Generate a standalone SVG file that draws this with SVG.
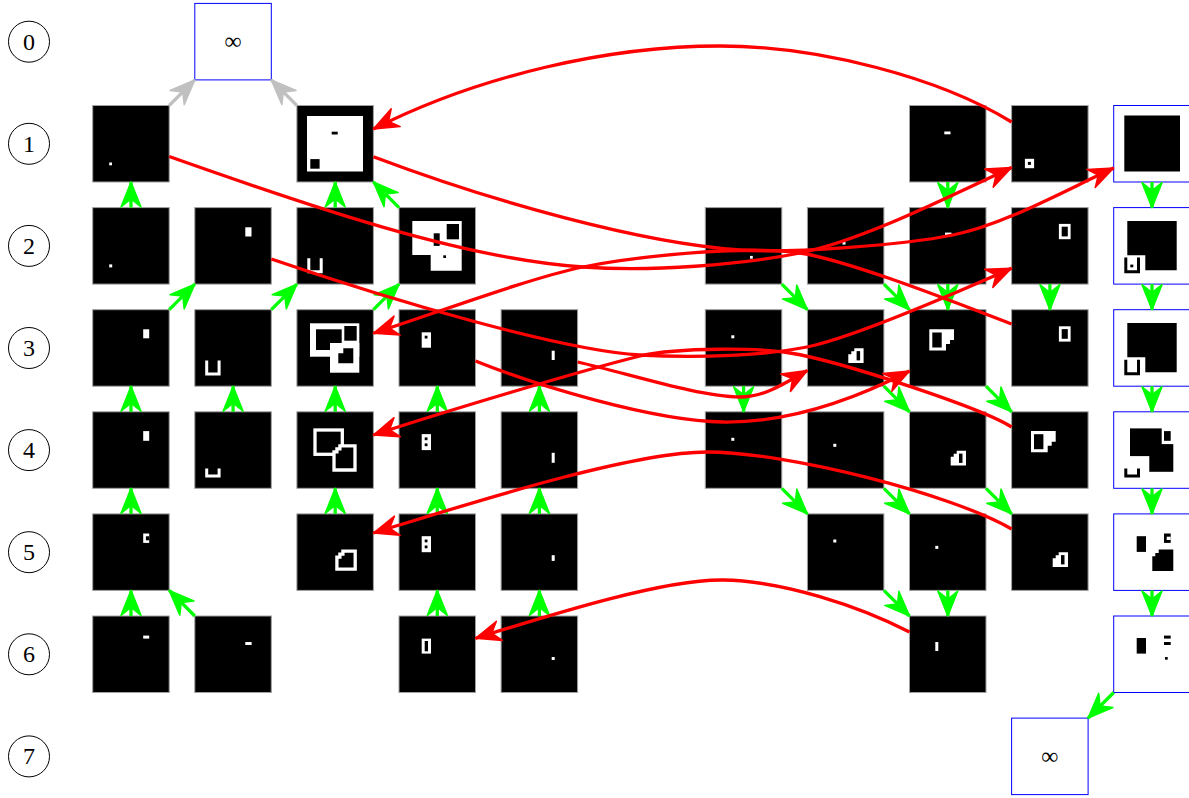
<svg xmlns="http://www.w3.org/2000/svg" xmlns:xlink="http://www.w3.org/1999/xlink" width="1189" height="798" viewBox="0 0 1189 798">
<style>
.n{fill:#000;stroke:#a0a0a0;stroke-width:1}
.b{fill:#fff;stroke:#0000ff;stroke-width:1}
.w{fill:#fff}
.k{fill:#000}
.ws{fill:none;stroke:#fff;stroke-width:3.3}
.wsk{fill:#000;stroke:#fff;stroke-width:3.3}
.lbl{fill:none;stroke:#000;stroke-width:1}
text{font-family:"Liberation Serif","Times New Roman",serif;font-size:24px;text-anchor:middle;fill:#000}
.g{fill:none;stroke:#00ff00;stroke-width:3.3;marker-end:url(#mg)}
.r{fill:none;stroke:#ff0000;stroke-width:3.3;marker-end:url(#mr)}
.s{fill:none;stroke:#c0c0c0;stroke-width:3.3;marker-end:url(#ms)}
</style>
<defs>
<marker id="mg" markerUnits="userSpaceOnUse" markerWidth="30" markerHeight="30" refX="25" refY="10" orient="auto" overflow="visible"><path d="M25,10 L0,0 L8,10 L0,20 Z" fill="#00ff00" stroke="#00ff00" stroke-width="1.5" stroke-linejoin="round"/></marker>
<marker id="mr" markerUnits="userSpaceOnUse" markerWidth="30" markerHeight="30" refX="25" refY="10" orient="auto" overflow="visible"><path d="M25,10 L0,0 L8,10 L0,20 Z" fill="#ff0000" stroke="#ff0000" stroke-width="1.5" stroke-linejoin="round"/></marker>
<marker id="ms" markerUnits="userSpaceOnUse" markerWidth="30" markerHeight="30" refX="25" refY="10" orient="auto" overflow="visible"><path d="M25,10 L0,0 L8,10 L0,20 Z" fill="#c0c0c0" stroke="#c0c0c0" stroke-width="1.5" stroke-linejoin="round"/></marker>
<rect id="sq" class="n" width="76.5" height="76.5"/>
<rect id="bx" class="b" width="76.5" height="76.5"/>
<g id="house"><path class="w" d="M6,0H15.3V14.7H0V6H3V3H6Z"/><rect class="k" x="8.3" y="2.8" width="3.5" height="9.3"/></g>
<g id="flag"><path class="w" d="M0,0H24.7V10.7H20.7V14.7H16.7V21.3H0Z"/><rect class="k" x="3" y="3.2" width="9.4" height="15"/></g>
<g id="ring"><rect class="w" width="11.7" height="15.3"/><rect class="k" x="2.8" y="2.8" width="6.1" height="9.7"/></g>
<path id="uw" class="w" d="M0,0H3V12H12.4V0H15.4V15H0Z"/>
<g id="tall8"><rect class="w" width="9.3" height="16"/><rect class="k" x="3" y="3.3" width="2.8" height="2.8"/><rect class="k" x="3" y="9.3" width="2.8" height="2.8"/></g>
<g id="bigL"><path class="k" d="M13.6,13.3H63V62.6H31.6V47.6H13.6Z"/><path class="k" d="M10.6,50H13.6V62.6H23.3V50H26.3V65.6H10.6Z"/></g>
</defs>

<g id="rank-labels">
<g id="r0"><circle class="lbl" cx="29" cy="41.7" r="20.5"/><text x="29" y="49.5">0</text></g>
<g id="r1"><circle class="lbl" cx="29" cy="143.8" r="20.5"/><text x="29" y="151.6">1</text></g>
<g id="r2"><circle class="lbl" cx="29" cy="245.9" r="20.5"/><text x="29" y="253.7">2</text></g>
<g id="r3"><circle class="lbl" cx="29" cy="348" r="20.5"/><text x="29" y="355.8">3</text></g>
<g id="r4"><circle class="lbl" cx="29" cy="450.1" r="20.5"/><text x="29" y="457.9">4</text></g>
<g id="r5"><circle class="lbl" cx="29" cy="552.2" r="20.5"/><text x="29" y="560">5</text></g>
<g id="r6"><circle class="lbl" cx="29" cy="654.3" r="20.5"/><text x="29" y="662.1">6</text></g>
<g id="r7"><circle class="lbl" cx="29" cy="756.4" r="20.5"/><text x="29" y="764.2">7</text></g>
</g>

<g id="nodes">
<g id="n0_1" transform="translate(194.8,3.4)"><use href="#bx"/><text x="38.25" y="46">∞</text></g>
<g id="n7_9" transform="translate(1011.6,718.1)"><use href="#bx"/><text x="38.25" y="46">∞</text></g>

<g id="n1_0" transform="translate(92.7,105.5)"><use href="#sq"/><rect class="w" x="16.5" y="57" width="2.8" height="2.8"/></g>
<g id="n1_2" transform="translate(296.9,105.5)"><use href="#sq"/><rect class="w" x="10.1" y="10.5" width="56" height="55.5"/><rect class="k" x="13.4" y="53.6" width="9.3" height="9.6"/><rect class="k" x="34.8" y="26.2" width="6" height="2.8"/></g>
<g id="n1_8" transform="translate(909.5,105.5)"><use href="#sq"/><rect class="w" x="34.8" y="26" width="6.2" height="2.8"/></g>
<g id="n1_9" transform="translate(1011.6,105.5)"><use href="#sq"/><rect class="w" x="13.3" y="53.3" width="9.2" height="9.4"/><rect class="k" x="16.3" y="56.4" width="3" height="3"/></g>
<g id="n1_10" transform="translate(1113.7,105.5)"><use href="#bx"/><rect class="k" x="10.6" y="10" width="55.7" height="56"/></g>

<g id="n2_0" transform="translate(92.7,207.6)"><use href="#sq"/><rect class="w" x="16.5" y="56.8" width="3" height="3"/></g>
<g id="n2_1" transform="translate(194.8,207.6)"><use href="#sq"/><rect class="w" x="50.5" y="19.7" width="6.2" height="9.2"/></g>
<g id="n2_2" transform="translate(296.9,207.6)"><use href="#sq"/><use href="#uw" x="10.4" y="50.7"/></g>
<g id="n2_3" transform="translate(399,207.6)"><use href="#sq"/><path class="w" d="M13.3,13.4H62.7V63.1H31.7V47.4H13.3Z"/><rect class="k" x="47.7" y="16.4" width="12.3" height="15.3"/><rect class="k" x="34.7" y="25.7" width="6" height="12.6"/><rect class="k" x="44.3" y="47.7" width="2.7" height="2.7"/></g>
<g id="n2_6" transform="translate(705.3,207.6)"><use href="#sq"/><rect class="w" x="44.7" y="48.3" width="2.8" height="2.8"/></g>
<g id="n2_7" transform="translate(807.4,207.6)"><use href="#sq"/><rect class="w" x="35.1" y="34" width="3" height="3"/></g>
<g id="n2_8" transform="translate(909.5,207.6)"><use href="#sq"/><rect class="w" x="35.5" y="25" width="6.5" height="3.5"/></g>
<g id="n2_9" transform="translate(1011.6,207.6)"><use href="#sq"/><use href="#ring" x="47.3" y="16.3"/></g>
<g id="n2_10" transform="translate(1113.7,207.6)"><use href="#bx"/><use href="#bigL"/><rect class="k" x="16.6" y="57" width="3" height="2.7"/></g>

<g id="n3_0" transform="translate(92.7,309.7)"><use href="#sq"/><rect class="w" x="50.5" y="19.6" width="6" height="9"/></g>
<g id="n3_1" transform="translate(194.8,309.7)"><use href="#sq"/><use href="#uw" x="10.4" y="50.7"/></g>
<g id="n3_2" transform="translate(296.9,309.7)"><use href="#sq"/><rect class="w" x="13.1" y="13.6" width="49.3" height="33.4"/><rect class="k" x="19.1" y="19.6" width="25.7" height="20.7"/><rect class="k" x="47.4" y="16.3" width="12.4" height="14.7"/><rect class="w" x="33.1" y="33.3" width="29.3" height="29.7"/><path class="k" d="M46.4,38.6H56.4V53.6H41.4V43.6H46.4Z"/></g>
<g id="n3_3" transform="translate(399,309.7)"><use href="#sq"/><rect class="w" x="22.7" y="22.6" width="9.3" height="15.4"/><rect class="k" x="25.7" y="26" width="2.8" height="2.8"/></g>
<g id="n3_4" transform="translate(501.1,309.7)"><use href="#sq"/><rect class="w" x="50.6" y="41" width="3" height="9.3"/></g>
<g id="n3_6" transform="translate(705.3,309.7)"><use href="#sq"/><rect class="w" x="26" y="25.6" width="3" height="3"/></g>
<g id="n3_7" transform="translate(807.4,309.7)"><use href="#sq"/><use href="#house" x="40.9" y="38.6"/></g>
<g id="n3_8" transform="translate(909.5,309.7)"><use href="#sq"/><use href="#flag" x="19.8" y="19.6"/></g>
<g id="n3_9" transform="translate(1011.6,309.7)"><use href="#sq"/><use href="#ring" x="47.3" y="16.6"/></g>
<g id="n3_10" transform="translate(1113.7,309.7)"><use href="#bx"/><use href="#bigL"/></g>

<g id="n4_0" transform="translate(92.7,411.8)"><use href="#sq"/><rect class="w" x="50.5" y="19.3" width="6" height="9.7"/></g>
<g id="n4_1" transform="translate(194.8,411.8)"><use href="#sq"/><path class="w" d="M10.4,56.6H13.4V62.6H22.8V56.6H25.8V65.6H10.4Z"/></g>
<g id="n4_2" transform="translate(296.9,411.8)"><use href="#sq"/><rect class="ws" x="18.1" y="18.2" width="27.3" height="24.3"/><path class="wsk" d="M43,34H58.1V58.2H37.1V40H40V37H43Z"/></g>
<g id="n4_3" transform="translate(399,411.8)"><use href="#sq"/><use href="#tall8" x="22.7" y="22.3"/></g>
<g id="n4_4" transform="translate(501.1,411.8)"><use href="#sq"/><rect class="w" x="50.6" y="41" width="3" height="10"/></g>
<g id="n4_6" transform="translate(705.3,411.8)"><use href="#sq"/><rect class="w" x="26" y="26" width="3" height="3"/></g>
<g id="n4_7" transform="translate(807.4,411.8)"><use href="#sq"/><rect class="w" x="25.9" y="32" width="3" height="3"/></g>
<g id="n4_8" transform="translate(909.5,411.8)"><use href="#sq"/><use href="#house" x="41.2" y="39"/></g>
<g id="n4_9" transform="translate(1011.6,411.8)"><use href="#sq"/><use href="#flag" x="19.4" y="19.2"/></g>
<g id="n4_10" transform="translate(1113.7,411.8)"><use href="#bx"/><rect class="k" x="16.3" y="16.6" width="31.7" height="27.7"/><rect class="k" x="35.6" y="32.3" width="24" height="27.7"/><rect class="k" x="50.3" y="19.3" width="6.7" height="9.7"/><path class="k" d="M10.6,56.6H13.6V62.6H23.3V56.6H26.3V65.6H10.6Z"/></g>

<g id="n5_0" transform="translate(92.7,513.9)"><use href="#sq"/><rect class="w" x="50.5" y="19.6" width="6" height="9.4"/><rect class="k" x="53.2" y="22.4" width="3.3" height="4"/></g>
<g id="n5_2" transform="translate(296.9,513.9)"><use href="#sq"/><path class="ws" d="M46,37.2H58.3V55.3H40V43.2H43V40.2H46Z"/></g>
<g id="n5_3" transform="translate(399,513.9)"><use href="#sq"/><use href="#tall8" x="22.7" y="22.3"/></g>
<g id="n5_4" transform="translate(501.1,513.9)"><use href="#sq"/><rect class="w" x="50.6" y="41.3" width="3" height="5.7"/></g>
<g id="n5_7" transform="translate(807.4,513.9)"><use href="#sq"/><rect class="w" x="25.9" y="25.6" width="3" height="3"/></g>
<g id="n5_8" transform="translate(909.5,513.9)"><use href="#sq"/><rect class="w" x="25.8" y="32" width="3" height="3"/></g>
<g id="n5_9" transform="translate(1011.6,513.9)"><use href="#sq"/><use href="#house" x="41.1" y="38.4"/></g>
<g id="n5_10" transform="translate(1113.7,513.9)"><use href="#bx"/><rect class="k" x="23" y="22.3" width="9.3" height="15.7"/><rect class="k" x="50.3" y="19.6" width="6.7" height="9.4"/><rect class="w" x="53" y="22.8" width="4" height="3.3"/><path class="k" d="M45,35.6H59.6V57H38.6V42.3H41.6V39H45Z"/></g>

<g id="n6_0" transform="translate(92.7,616)"><use href="#sq"/><rect class="w" x="50.5" y="19.6" width="6" height="3"/></g>
<g id="n6_1" transform="translate(194.8,616)"><use href="#sq"/><rect class="w" x="50.5" y="26" width="6.3" height="3"/></g>
<g id="n6_3" transform="translate(399,616)"><use href="#sq"/><rect class="w" x="22.7" y="22.6" width="9.3" height="15"/><rect class="k" x="25.7" y="25" width="3.3" height="10.3"/></g>
<g id="n6_4" transform="translate(501.1,616)"><use href="#sq"/><rect class="w" x="50.6" y="41" width="3" height="3"/></g>
<g id="n6_8" transform="translate(909.5,616)"><use href="#sq"/><rect class="w" x="25.8" y="26" width="3" height="9"/></g>
<g id="n6_10" transform="translate(1113.7,616)"><use href="#bx"/><rect class="k" x="23" y="22" width="9.3" height="15.6"/><rect class="k" x="50.3" y="19.6" width="6.7" height="3"/><rect class="k" x="50.3" y="26" width="6.7" height="3"/><rect class="k" x="51.3" y="41" width="2.7" height="2.7"/></g>
</g>

<g id="connectors">
<path class="s" d="M169.2,105.5L194.8,79.9"/>
<path class="s" d="M296.9,105.5L271.3,79.9"/>

<path class="g" d="M131,207.6V182"/>
<path class="g" d="M335.2,207.6V182"/>
<path class="g" d="M399,207.6L373.4,182"/>
<path class="g" d="M169.2,309.7L194.8,284.1"/>
<path class="g" d="M271.3,309.7L296.9,284.1"/>
<path class="g" d="M373.4,309.7L399,284.1"/>
<path class="g" d="M131,411.8V386.2"/>
<path class="g" d="M233.1,411.8V386.2"/>
<path class="g" d="M335.2,411.8V386.2"/>
<path class="g" d="M437.3,411.8V386.2"/>
<path class="g" d="M539.4,411.8V386.2"/>
<path class="g" d="M131,513.9V488.3"/>
<path class="g" d="M335.2,513.9V488.3"/>
<path class="g" d="M437.3,513.9V488.3"/>
<path class="g" d="M539.4,513.9V488.3"/>
<path class="g" d="M131,616V590.4"/>
<path class="g" d="M194.8,616L169.2,590.4"/>
<path class="g" d="M437.3,616V590.4"/>
<path class="g" d="M539.4,616V590.4"/>

<path class="g" d="M947.8,182V207.6"/>
<path class="g" d="M1152,182V207.6"/>
<path class="g" d="M781.8,284.1L807.4,309.7"/>
<path class="g" d="M883.9,284.1L909.5,309.7"/>
<path class="g" d="M947.8,284.1V309.7"/>
<path class="g" d="M1049.9,284.1V309.7"/>
<path class="g" d="M1152,284.1V309.7"/>
<path class="g" d="M743.6,386.2V411.8"/>
<path class="g" d="M883.9,386.2L909.5,411.8"/>
<path class="g" d="M986,386.2L1011.6,411.8"/>
<path class="g" d="M1152,386.2V411.8"/>
<path class="g" d="M781.8,488.3L807.4,513.9"/>
<path class="g" d="M883.9,488.3L909.5,513.9"/>
<path class="g" d="M986,488.3L1011.6,513.9"/>
<path class="g" d="M1152,488.3V513.9"/>
<path class="g" d="M883.9,590.4L909.5,616"/>
<path class="g" d="M947.8,590.4V616"/>
<path class="g" d="M1152,590.4V616"/>
<path class="g" d="M1113.7,692.5L1088.1,718.1"/>

<path class="r" d="M1011.6,122C940,78 820,46 720,46C610,46 480,75 373.4,129"/>
<path class="r" d="M169.2,156.5C309,206 463,259 583,267C653,271.7 740,265 800,253C860,241 940,201 1011.6,167.5"/>
<path class="r" d="M373.4,156.7C493,201.7 640,243 740,250C790,253.5 903,245 953,235C1003,225 1063,191.5 1113.7,168"/>
<path class="r" d="M1011.6,324C961.7,305 850,260.5 800,253C750,245.5 643,255 583,267C533,277 433,314 373.4,333.3"/>
<path class="r" d="M271.3,259C391,300 560,350 640,355C700,358.7 767,355 807,347C847,339 940,300 1011.6,268.3"/>
<path class="r" d="M1011.6,427C981.7,408 840,361 790,353C760,348 680,347 640,356C580,371 443,412 373.4,435"/>
<path class="r" d="M1011.6,529C951.7,494 787,452 707,452C627,452 453,509 373.4,533"/>
<path class="r" d="M909.5,632C859,606 783,581 723,580C663,579 547,616 475.5,638.3"/>
<path class="r" d="M475.5,361C535,385 653,421 723,422C793,423 859,397 909.5,371"/>
<path class="r" d="M577.6,362C630,374 700,397 740,397C765,397 785,383 807.4,370.5"/>
</g>
</svg>
